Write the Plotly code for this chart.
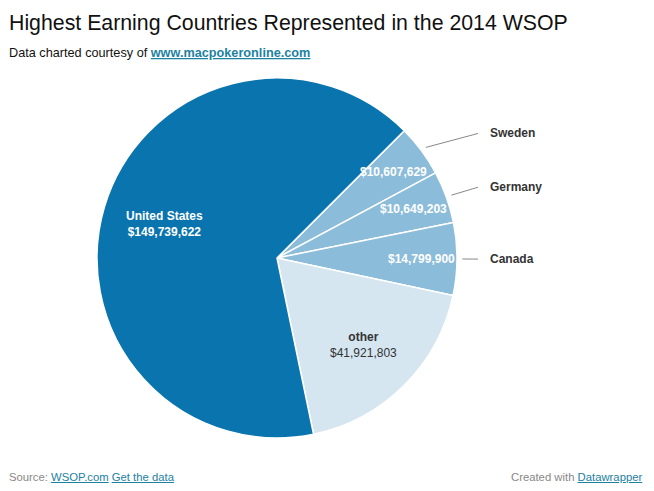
import math
import plotly.graph_objects as go

# ---- data ----
countries = ["Sweden", "Germany", "Canada", "other", "United States"]
earnings = [10607629, 10649203, 14799900, 41921803, 149739622]
colors = ["#8bbcd9", "#8bbcd9", "#8bbcd9", "#d5e6f1", "#0a74ae"]
outside_labels = ["Sweden", "Germany", "Canada"]

title = "Highest Earning Countries Represented in the 2014 WSOP"
subtitle_prefix = "Data charted courtesy of "
subtitle_link = "www.macpokeronline.com"

# ---- layout constants (pixels, in window coordinates) ----
WIN_W, WIN_H = 654, 491
OFF = 8  # default page body margin
W, H = WIN_W - 2 * OFF, WIN_H - 2 * OFF
CX, CY, R = 277, 258, 180
ROT = 45
LINK = "#1d81a2"
FONT = "Liberation Sans"


def px(x):
    return (x - OFF) / W


def py(y):
    return 1 - (y - OFF) / H


fig = go.Figure()
fig.add_trace(go.Pie(
    labels=countries,
    values=earnings,
    sort=False,
    direction="clockwise",
    rotation=ROT,
    marker=dict(colors=colors, line=dict(color="white", width=1.5)),
    textinfo="none",
    hoverinfo="label+value",
    domain=dict(x=[px(CX - R), px(CX + R)], y=[py(CY + R), py(CY - R)]),
    showlegend=False,
))

total = sum(earnings)
annotations = []
shapes = []
cum = 0
for name, val in zip(countries, earnings):
    start = ROT + 360 * cum / total
    cum += val
    end = ROT + 360 * cum / total
    mid = math.radians((start + end) / 2)
    dx, dy = math.sin(mid), -math.cos(mid)
    money = "${:,}".format(val)
    if name in outside_labels:
        rr = 0.805 * R
        annotations.append(dict(
            x=px(CX + dx * rr), y=py(CY + dy * rr), xref="paper", yref="paper",
            text="<b>" + money + "</b>", showarrow=False,
            font=dict(family=FONT, size=12, color="white"),
            xanchor="center", yanchor="middle"))
        # leader line + external name
        x0, y0 = CX + dx * 1.03 * R, CY + dy * 1.03 * R
        ly = CY + dy * 1.16 * R
        shapes.append(dict(type="line", xref="paper", yref="paper",
                           x0=px(x0), y0=py(y0), x1=px(478), y1=py(ly),
                           line=dict(color="#888", width=1)))
        annotations.append(dict(
            x=px(488), y=py(ly), xref="paper", yref="paper",
            text="<b>" + name + "</b>", showarrow=False,
            font=dict(family=FONT, size=12, color="#333"),
            xanchor="left", yanchor="middle"))
    elif name == "other":
        rr = 0.68 * R
        annotations.append(dict(
            x=px(CX + dx * rr), y=py(CY + dy * rr), xref="paper", yref="paper",
            text="<b>" + name + "</b><br>" + money, showarrow=False,
            font=dict(family=FONT, size=12, color="#333"),
            xanchor="center", yanchor="middle"))
    else:
        rr = 0.655 * R
        annotations.append(dict(
            x=px(CX + dx * rr), y=py(CY + dy * rr), xref="paper", yref="paper",
            text="<b>" + name + "</b><br><b>" + money + "</b>", showarrow=False,
            font=dict(family=FONT, size=12, color="white"),
            xanchor="center", yanchor="middle"))

# title & notes
annotations += [
    dict(x=px(7), y=py(23), xref="paper", yref="paper", xanchor="left", yanchor="middle",
         text=title, showarrow=False, font=dict(family=FONT, size=21.3, color="#111")),
    dict(x=px(7), y=py(53), xref="paper", yref="paper", xanchor="left", yanchor="middle",
         text=subtitle_prefix + "<a href='http://www.macpokeronline.com'><span style='color:" + LINK +
         ";text-decoration:underline'><b>" + subtitle_link + "</b></span></a>",
         showarrow=False, font=dict(family=FONT, size=12.7, color="#111")),
    dict(x=px(7), y=py(477), xref="paper", yref="paper", xanchor="left", yanchor="middle",
         text="Source: <a href='http://www.wsop.com'><span style='color:" + LINK +
         ";text-decoration:underline'>WSOP.com</span></a> <span style='color:" + LINK +
         ";text-decoration:underline'>Get the data</span>",
         showarrow=False, font=dict(family=FONT, size=11.3, color="#888")),
    dict(x=px(644), y=py(477), xref="paper", yref="paper", xanchor="right", yanchor="middle",
         text="Created with <span style='color:" + LINK +
         ";text-decoration:underline'>Datawrapper</span>",
         showarrow=False, font=dict(family=FONT, size=11.3, color="#888")),
]

fig.update_layout(
    width=W, height=H,
    margin=dict(l=0, r=0, t=0, b=0),
    paper_bgcolor="white", plot_bgcolor="white",
    annotations=annotations, shapes=shapes,
    font=dict(family=FONT),
)
fig.write_html("out.html")
